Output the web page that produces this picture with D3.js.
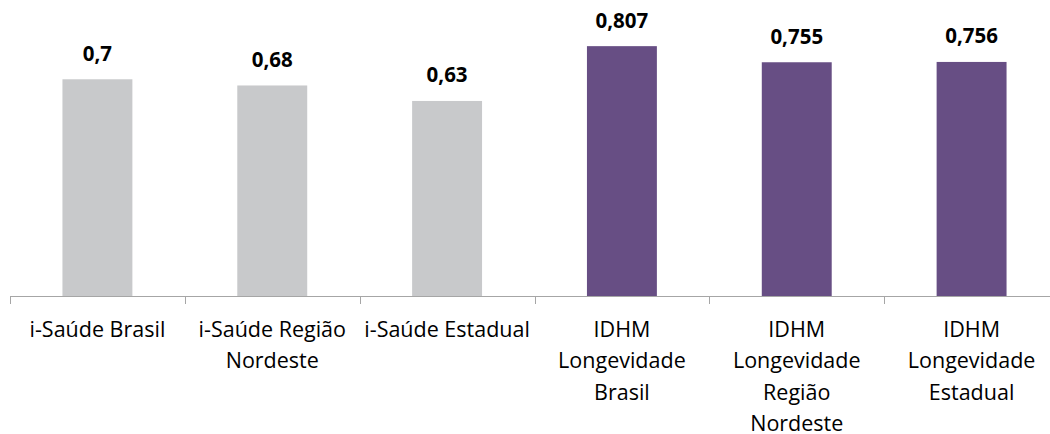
<!DOCTYPE html>
<html><head><meta charset="utf-8">
<script src="https://cdn.jsdelivr.net/npm/d3@7"></script>
<style>body{margin:0;background:#fff}svg{display:block}</style>
</head><body>
<svg id="c" width="1050" height="434"></svg>
<script>
const categories = ["i-Saúde Brasil", "i-Saúde Região\nNordeste", "i-Saúde Estadual",
  "IDHM\nLongevidade\nBrasil", "IDHM\nLongevidade\nRegião\nNordeste", "IDHM\nLongevidade\nEstadual"];
const values = [0.7, 0.68, 0.63, 0.807, 0.755, 0.756];
const valueLabels = ["0,7", "0,68", "0,63", "0,807", "0,755", "0,756"];
const groups = ["i-Saúde", "i-Saúde", "i-Saúde", "IDHM", "IDHM", "IDHM"];

const colors = {"i-Saúde": "#C8C9CB", "IDHM": "#674E84"};
const svg = d3.select("#c");
const baseY = 296;
const x = d3.scaleBand().domain(categories).range([10, 1059]).paddingInner(0.6).paddingOuter(0.3);
const xb = d3.scaleBand().domain(categories).range([10, 1059]);
const y = d3.scaleLinear().domain([0, 0.9]).range([baseY, baseY - 0.9 * 309.6]);
const font = "'Open Sans', sans-serif";

svg.selectAll("rect.bar").data(values).join("rect")
  .attr("x", (d, i) => x(categories[i]))
  .attr("width", x.bandwidth())
  .attr("y", d => y(d))
  .attr("height", d => y(0) - y(d))
  .attr("fill", (d, i) => colors[groups[i]]);

svg.selectAll("text.val").data(values).join("text")
  .attr("x", (d, i) => x(categories[i]) + x.bandwidth() / 2)
  .attr("y", d => y(d) - 18.5)
  .attr("text-anchor", "middle")
  .attr("font-family", font).attr("font-weight", "bold").attr("font-size", 20.5)
  .attr("fill", "#000")
  .text((d, i) => valueLabels[i]);

// axis
const ax = svg.append("g");
ax.append("line").attr("x1", 10).attr("x2", 1059).attr("y1", baseY + 0.5).attr("y2", baseY + 0.5)
  .attr("stroke", "#A6A6A6").attr("stroke-width", 1);
const ticks = categories.map(c => xb(c)).concat([xb.range()[1]]);
ax.selectAll("line.t").data(ticks).join("line")
  .attr("x1", d => Math.round(d) + 0.5).attr("x2", d => Math.round(d) + 0.5)
  .attr("y1", baseY).attr("y2", baseY + 8)
  .attr("stroke", "#A6A6A6").attr("stroke-width", 1);

const lab = svg.selectAll("text.cat").data(categories).join("text")
  .attr("text-anchor", "middle")
  .attr("font-family", font).attr("font-size", 21.5).attr("fill", "#000")
  .attr("transform", d => `translate(${xb(d) + xb.bandwidth() / 2},337)`);
lab.each(function(d) {
  const t = d3.select(this);
  d.split("\n").forEach((line, k) => {
    t.append("tspan").attr("x", 0).attr("y", k * 31.3).text(line);
  });
});
</script>
</body></html>
